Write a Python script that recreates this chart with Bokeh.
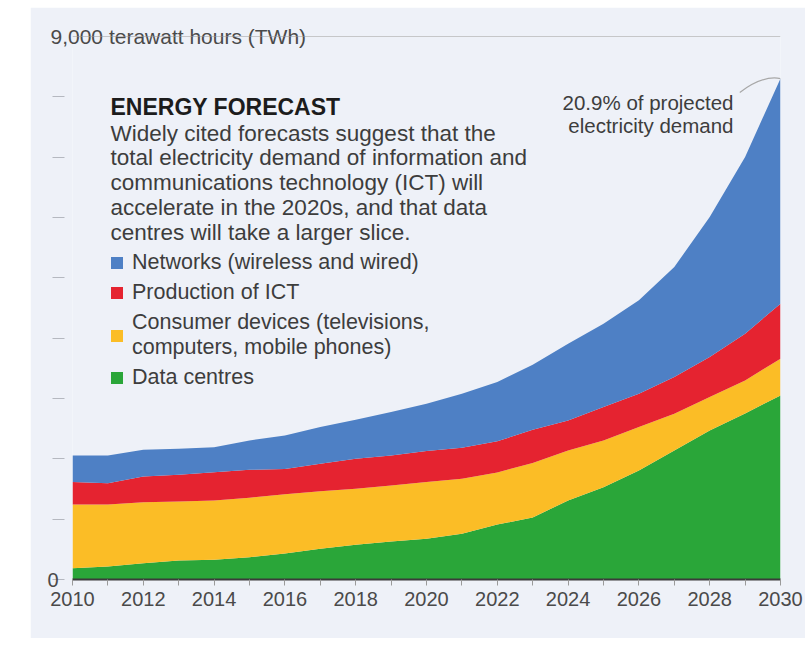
from bokeh.plotting import figure
from bokeh.models import (ColumnDataSource, Range1d, FixedTicker, Legend, LegendItem,
                          Label, Span, Title)
from bokeh.embed import file_html
from bokeh.resources import INLINE

# ---- data (TWh) ----
years = list(range(2010, 2031))
data_centres = [187, 216, 270, 315, 327, 370, 430, 509, 575, 630, 675, 758, 910, 1028,
                1310, 1531, 1808, 2139, 2471, 2753, 3051]
consumer_devices = [1057, 1028, 1012, 979, 983, 985, 985, 955, 929, 929, 939, 912, 865, 903,
                    829, 774, 718, 609, 552, 547, 609]
production_ict = [370, 353, 426, 442, 469, 464, 415, 455, 498, 497, 514, 514, 515, 550,
                  498, 553, 553, 607, 664, 775, 912]
networks = [442, 459, 443, 431, 415, 486, 558, 607, 646, 719, 786, 896, 982, 1079,
            1272, 1382, 1548, 1824, 2322, 2928, 3731]

series_keys = ["data_centres", "consumer_devices", "production_ict", "networks"]
series_labels = ["Data centres",
                 "Consumer devices (televisions,\ncomputers, mobile phones)",
                 "Production of ICT",
                 "Networks (wireless and wired)"]
colors = ["#2aa639", "#fbbd26", "#e52330", "#4e80c5"]

y_ticks = [0, 1000, 2000, 3000, 4000, 5000, 6000, 7000, 8000]
x_major = list(range(2010, 2031, 2))
x_minor = list(range(2011, 2030, 2))

title_text = "ENERGY FORECAST"
body_lines = ["Widely cited forecasts suggest that the",
              "total electricity demand of information and",
              "communications technology (ICT) will",
              "accelerate in the 2020s, and that data",
              "centres will take a larger slice."]
note_lines = ["20.9% of projected", "electricity demand"]
unit_text = "9,000 terawatt hours (TWh)"

source = ColumnDataSource(dict(year=years, data_centres=data_centres,
                               consumer_devices=consumer_devices,
                               production_ict=production_ict, networks=networks))
total = [a + b + c + d for a, b, c, d in zip(data_centres, consumer_devices,
                                              production_ict, networks)]

PANEL = "#eef1f8"
TXT = "#3d3d3d"
FONT = "Liberation Sans"

p = figure(width=775, height=631, margin=(7, 0, 8, 30),
           x_range=Range1d(2010, 2030), y_range=Range1d(0, 9000),
           toolbar_location=None, output_backend="svg",
           min_border_left=42, min_border_right=25, min_border_top=29, min_border_bottom=59,
           background_fill_color=PANEL, border_fill_color=PANEL, outline_line_color=None)
p.grid.visible = False

# 9,000 TWh line (drawn first, under everything)
p.add_layout(Span(location=9000, dimension="width", line_color="#9a9a9a", line_width=1))

renderers = p.varea_stack(series_keys, x="year", source=source, color=colors)

# x axis
xa = p.xaxis[0]
xa.ticker = FixedTicker(ticks=x_major, minor_ticks=x_minor)
xa.axis_line_color = "#3a3a3a"
xa.axis_line_width = 2
xa.major_tick_in = 0
xa.major_tick_out = 6
xa.minor_tick_in = 0
xa.minor_tick_out = 6
xa.major_tick_line_color = "#9a9a9a"
xa.minor_tick_line_color = "#9a9a9a"
xa.major_label_text_font = FONT
xa.major_label_text_font_size = "20px"
xa.major_label_text_color = "#4a4a4a"
xa.major_label_standoff = 6

# y axis: detached dashes, only "0" labelled
ya = p.yaxis[0]
ya.ticker = FixedTicker(ticks=y_ticks)
ya.axis_line_color = None
ya.major_tick_in = -8
ya.major_tick_out = 20
ya.minor_tick_line_color = None
ya.major_tick_line_color = "#b5b8c0"
ya.major_label_overrides = {t: ("0" if t == 0 else "") for t in y_ticks}
ya.major_label_text_font = FONT
ya.major_label_text_font_size = "20px"
ya.major_label_text_color = "#4a4a4a"
ya.major_label_standoff = -6

# unit label on the 9,000 line (title panel, so it is not clipped by the frame)
p.add_layout(Title(text=unit_text, align="left", offset=-22, standoff=-23,
                   vertical_align="bottom", text_font=FONT, text_font_style="normal",
                   text_font_size="21px", text_color="#4a4a4a",
                   background_fill_color=PANEL), "above")

# title and body text
p.add_layout(Label(x=38, y=472.3, x_units="screen", y_units="screen", text=title_text,
                   text_font=FONT, text_font_style="bold", text_font_size="23px",
                   text_color="#1c1c1c", text_baseline="alphabetic"))
for i, line in enumerate(body_lines):
    p.add_layout(Label(x=38, y=446.3 - i * 24.75, x_units="screen", y_units="screen",
                       text=line, text_font=FONT, text_font_size="22.5px", text_color=TXT,
                       text_baseline="alphabetic"))

# annotation at 2030
for i, line in enumerate(note_lines):
    p.add_layout(Label(x=661, y=477.3 - i * 23.3, x_units="screen", y_units="screen",
                       text=line, text_font=FONT, text_font_size="20.5px", text_color=TXT,
                       text_align="right", text_baseline="alphabetic"))
p.quadratic(x0=[years[-1] - 1.15], y0=[total[-1] - 230], x1=[years[-1]], y1=[total[-1]],
            cx=[years[-1] - 0.5], cy=[total[-1] + 60], line_color="#a8a8a8", line_width=1.2)

# legend
order = [3, 2, 1, 0]
items = [LegendItem(label=series_labels[i], renderers=[renderers[i]]) for i in order]
legend = Legend(items=items, location=(37, 189), padding=0, margin=0, spacing=5,
                glyph_width=15, glyph_height=15, label_standoff=8, label_height=15,
                label_text_font=FONT, label_text_font_size="21.5px", label_text_color=TXT,
                border_line_color=None, background_fill_alpha=0)
p.add_layout(legend)

open("out.html", "w").write(file_html(p, INLINE))
